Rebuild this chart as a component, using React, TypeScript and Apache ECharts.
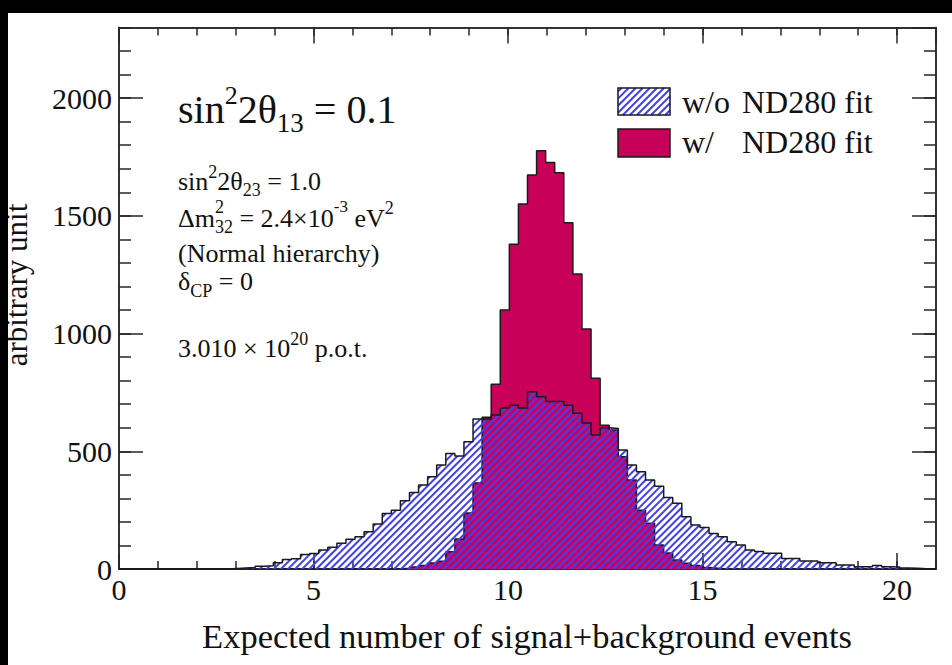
import { useEffect, useRef } from "react";
import * as echarts from "echarts";

// ---------------- data ----------------
// 90 bins of width 7/30 covering [0, 21]
const BIN_WIDTH = 7 / 30;
const X_RANGE = [0, 21];
const Y_RANGE = [0, 2300];
const xMajorTicks = [0, 5, 10, 15, 20];
const yMajorTicks = [0, 500, 1000, 1500, 2000];

// w/o ND280 fit (blue hatched)
const woFitCounts = [
  0, 0, 0, 0, 0, 0, 0, 0, 0, 0,
  0, 0, 2, 4, 6, 12, 14, 27, 40, 44,
  62, 66, 81, 92, 109, 126, 137, 158, 191, 236,
  250, 290, 325, 357, 392, 442, 491, 480, 541, 637,
  637, 654, 684, 696, 684, 753, 732, 711, 711, 696,
  662, 620, 569, 600, 597, 505, 442, 413, 378, 352,
  304, 279, 222, 187, 176, 151, 137, 116, 102, 81,
  74, 67, 67, 45, 45, 34, 34, 27, 27, 17,
  17, 10, 10, 15, 10, 8, 4, 3, 1, 0,
];

// w/ ND280 fit (crimson)
const wFitCounts = [
  0, 0, 0, 0, 0, 0, 0, 0, 0, 0,
  0, 0, 0, 0, 0, 0, 0, 0, 0, 0,
  0, 0, 0, 0, 0, 0, 0, 0, 0, 0,
  0, 3, 8, 15, 25, 33, 73, 127, 238, 365,
  645, 785, 1100, 1379, 1550, 1673, 1776, 1727, 1683, 1471,
  1253, 1019, 810, 611, 590, 477, 378, 250, 194, 102,
  68, 38, 24, 15, 6, 3, 0, 0, 0, 0,
  0, 0, 0, 0, 0, 0, 0, 0, 0, 0,
  0, 0, 0, 0, 0, 0, 0, 0, 0, 0,
];

const legendPrefixes = ["w/o", "w/"];
const legendSuffix = "ND280 fit";
const xTitle = "Expected number of signal+background events";
const yTitle = "arbitrary unit";

// ---------------- style ----------------
const FONT = '"Liberation Serif", "Times New Roman", serif';
const INK = "#111111";
const FRAME = "#262626";
const CRIMSON = "#c8005a";
const HATCH = "#4040f0";
const OUTLINE = "#1a1a1a";

const measureCtx = document.createElement("canvas").getContext("2d") as CanvasRenderingContext2D;
function textWidth(t: string, size: number) {
  measureCtx.font = `${size}px ${FONT}`;
  return measureCtx.measureText(t).width;
}

type Piece = [string, number, number, boolean?];
function textRun(x0: number, pieces: Piece[]) {
  let x = x0;
  const out: any[] = [];
  for (const [t, s, base, stack] of pieces) {
    out.push({
      type: "text",
      x,
      y: base - 0.34 * s,
      silent: true,
      style: { text: t, fontSize: s, fontFamily: FONT, fill: INK, align: "left", verticalAlign: "middle" },
    });
    if (!stack) x += textWidth(t, s);
  }
  return out;
}

function hatchLines(x0: number, y0: number, w: number, h: number, period: number) {
  const out: any[] = [];
  const x1 = x0 + w;
  const y1 = y0 + h;
  const step = period * Math.SQRT2;
  for (let c = x0 + y0 + step / 2; c < x1 + y1; c += step) {
    const xa = Math.max(x0, c - y1);
    const xb = Math.min(x1, c - y0);
    if (xb > xa) {
      out.push({
        type: "line",
        silent: true,
        shape: { x1: xa, y1: c - xa, x2: xb, y2: c - xb },
        style: { stroke: HATCH, lineWidth: 2 },
      });
    }
  }
  return out;
}

function stepData(counts: number[]) {
  const pts = counts.map((c, i) => [i * BIN_WIDTH, c]);
  pts.push([counts.length * BIN_WIDTH, counts[counts.length - 1]]);
  return pts;
}

function axisX(position: string, interval: number, len: number, labels: boolean) {
  return {
    type: "value",
    position,
    min: X_RANGE[0],
    max: X_RANGE[1],
    interval,
    axisLine: { show: true, onZero: false, lineStyle: { color: FRAME, width: 1.5 } },
    axisTick: { show: true, inside: true, length: len, lineStyle: { color: FRAME, width: 1.5 } },
    minorTick: { show: false },
    splitLine: { show: false },
    axisLabel: labels
      ? {
          show: true,
          margin: 5,
          fontSize: 30,
          fontFamily: FONT,
          color: INK,
          showMaxLabel: false,
          formatter: (v: number) => (xMajorTicks.includes(v) ? String(v) : ""),
        }
      : { show: false },
  };
}

function axisY(position: string, interval: number, len: number, labels: boolean) {
  return {
    type: "value",
    position,
    min: Y_RANGE[0],
    max: Y_RANGE[1],
    interval,
    axisLine: { show: true, onZero: false, lineStyle: { color: FRAME, width: 1.5 } },
    axisTick: { show: true, inside: true, length: len, lineStyle: { color: FRAME, width: 1.5 } },
    minorTick: { show: false },
    splitLine: { show: false },
    axisLabel: labels
      ? {
          show: true,
          margin: 7,
          fontSize: 30,
          fontFamily: FONT,
          color: INK,
          showMaxLabel: false,
          formatter: (v: number) => (yMajorTicks.includes(v) ? String(v) : ""),
        }
      : { show: false },
  };
}

function buildOption() {
  const S = 26; // annotation font
  const s = 18; // sub/superscript font
  const graphics: any[] = [
    ...textRun(178, [
      ["sin", 40, 123],
      ["2", 26, 104],
      ["2θ", 40, 123],
      ["13", 27, 132],
      [" = 0.1", 40, 123],
    ]),
    ...textRun(178, [
      ["sin", S, 190],
      ["2", s, 178],
      ["2θ", S, 190],
      ["23", s, 196],
      [" = 1.0", S, 190],
    ]),
    ...textRun(178, [
      ["Δm", S, 227],
      ["2", s, 213, true],
      ["32", s, 233],
      [" = 2.4×10", S, 227],
      ["-3", 17, 212],
      [" eV", S, 227],
      ["2", s, 214],
    ]),
    ...textRun(178, [["(Normal hierarchy)", S, 262]]),
    ...textRun(178, [
      ["δ", S, 290],
      ["CP", s, 297],
      [" = 0", S, 290],
    ]),
    ...textRun(178, [
      ["3.010 × 10", S, 357],
      ["20", s, 345],
      [" p.o.t.", S, 357],
    ]),
    {
      type: "rect",
      silent: true,
      shape: { x: 618, y: 129, width: 52, height: 28 },
      style: { fill: CRIMSON, stroke: OUTLINE, lineWidth: 1.5 },
    },
    {
      type: "rect",
      silent: true,
      shape: { x: 618, y: 88, width: 52, height: 27 },
      style: { fill: "#ffffff", stroke: "none" },
    },
    ...hatchLines(618, 88, 52, 27, 5),
    {
      type: "rect",
      silent: true,
      shape: { x: 618, y: 88, width: 52, height: 27 },
      style: { fill: "none", stroke: OUTLINE, lineWidth: 1.5 },
    },
    ...textRun(682, [[legendPrefixes[0], 32, 113]]),
    ...textRun(742, [[legendSuffix, 32, 113]]),
    ...textRun(682, [[legendPrefixes[1], 32, 153]]),
    ...textRun(742, [[legendSuffix, 32, 153]]),
    {
      type: "text",
      silent: true,
      x: 527,
      y: 648 - 0.34 * 34.5,
      style: { text: xTitle, fontSize: 34.5, fontFamily: FONT, fill: INK, align: "center", verticalAlign: "middle" },
    },
    {
      type: "text",
      silent: true,
      x: 27 - 0.34 * 31,
      y: 285,
      rotation: Math.PI / 2,
      style: { text: yTitle, fontSize: 31, fontFamily: FONT, fill: INK, align: "center", verticalAlign: "middle" },
    },
    { type: "rect", silent: true, z: 100, shape: { x: 0, y: 0, width: 952, height: 13 }, style: { fill: "#000" } },
    { type: "rect", silent: true, z: 100, shape: { x: 0, y: 0, width: 8, height: 665 }, style: { fill: "#000" } },
  ];

  return {
    animation: false,
    backgroundColor: "#ffffff",
    grid: { left: 119, right: 16, top: 27.5, bottom: 96, show: false, outerBoundsMode: "none", containLabel: false },
    xAxis: [
      axisX("bottom", 5, 16, true),
      axisX("bottom", 1, 8, false),
      axisX("top", 5, 16, false),
      axisX("top", 1, 8, false),
    ],
    yAxis: [
      axisY("left", 500, 24, true),
      axisY("left", 100, 12, false),
      axisY("right", 500, 24, false),
      axisY("right", 100, 12, false),
    ],
    series: [
      {
        type: "line",
        name: "w/ ND280 fit",
        step: "end",
        data: stepData(wFitCounts),
        symbol: "none",
        silent: true,
        z: 2,
        lineStyle: { color: OUTLINE, width: 1.5 },
        itemStyle: { color: CRIMSON },
        areaStyle: { color: CRIMSON, opacity: 1 },
        emphasis: { disabled: true },
      },
      {
        type: "line",
        name: "w/o ND280 fit",
        step: "end",
        data: stepData(woFitCounts),
        symbol: "none",
        silent: true,
        z: 3,
        lineStyle: { color: OUTLINE, width: 1.5 },
        itemStyle: {
          color: HATCH,
          decal: {
            symbol: "rect",
            symbolSize: 1,
            color: HATCH,
            backgroundColor: "rgba(0,0,0,0)",
            dashArrayX: [1, 0],
            dashArrayY: [2, 3],
            rotation: -Math.PI / 4,
          },
        },
        areaStyle: { color: "rgba(255,255,255,0)", opacity: 1 },
        emphasis: { disabled: true },
      },
    ],
    graphic: graphics,
  };
}

export default function App() {
  const ref = useRef<HTMLDivElement>(null);
  useEffect(() => {
    if (!ref.current) return;
    const chart = echarts.init(ref.current, null, { renderer: "svg" });
    chart.setOption(buildOption() as any);
    return () => chart.dispose();
  }, []);
  return (
    <div
      ref={ref}
      style={{ position: "fixed", left: 0, top: 0, width: 952, height: 665, background: "#fff" }}
    />
  );
}
